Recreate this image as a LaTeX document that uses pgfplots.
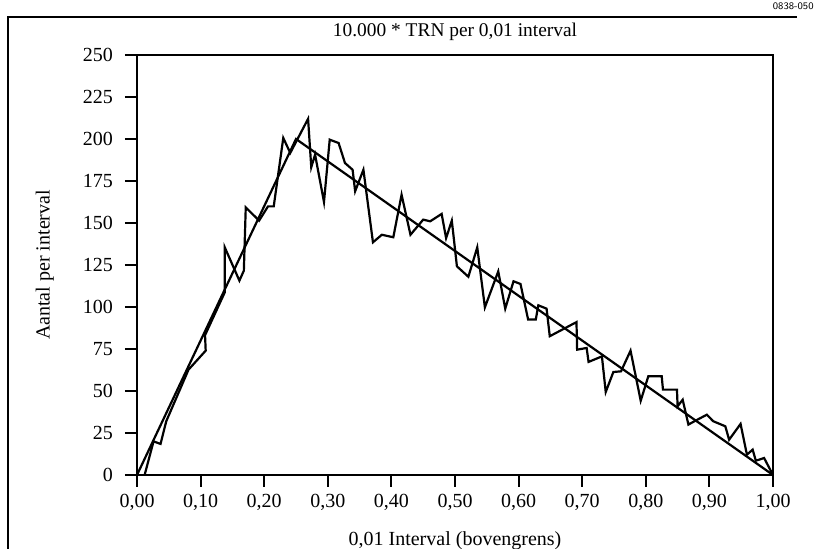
\documentclass[border=0pt]{standalone}
\usepackage{pgfplots}
\pgfplotsset{compat=1.18}
\usepackage{fontspec}
\setmainfont{Liberation Serif}
\begin{document}
\fontsize{10}{12}\selectfont
\begin{tikzpicture}
\useasboundingbox (0,0) rectangle (407pt,274.5pt);
\draw[line width=0.6pt] (4pt,0) -- (4pt,266pt) -- (398.5pt,266pt);
\node[anchor=north east, inner sep=0pt, font=\fontsize{5}{6}\selectfont\sffamily] at (407pt,273.5pt) {0838-050};
\begin{axis}[
  at={(68.5pt,37pt)}, anchor=south west,
  scale only axis, width=318pt, height=210pt,
  xmin=0, xmax=1, ymin=0, ymax=250,
  xtick={0,0.1,0.2,0.3,0.4,0.5,0.6,0.7,0.8,0.9,1},
  ytick={0,25,50,75,100,125,150,175,200,225,250},
  tick align=outside, tick pos=left,
  major tick length=6pt,
  axis line style={line width=1pt},
  every tick/.style={line width=1pt, black},
  /pgf/number format/assume math mode=true,
  ticklabel style={font=\fontsize{10}{12}\selectfont},
  xticklabel style={/pgf/number format/.cd, fixed, fixed zerofill, precision=2, use comma},
  yticklabel style={xshift=-2.5pt, /pgf/number format/.cd, fixed, precision=0},
  title={10.000 * TRN per 0,01 interval},
  title style={at={(axis description cs:0.5,1.026)}, anchor=center, font=\fontsize{9.7}{12}\selectfont},
  xlabel={0,01 Interval (bovengrens)},
  xlabel style={at={(axis description cs:0.5,-0.157)}, anchor=center, font=\fontsize{10}{12}\selectfont},
  ylabel={Aantal per interval},
  ylabel style={at={(axis description cs:-0.145,0.5)}, anchor=center, font=\fontsize{10}{12}\selectfont},
]
\addplot[black, line width=1.1pt, line join=miter] coordinates {
(0.0,0) (0.25,200) (1.0,0)
};
\addplot[black, line width=1.1pt, line join=miter] coordinates {
(0.012,0) (0.026,20) (0.037,18.5) (0.046,32) (0.081,62.7) (0.108,74) (0.107,83.2)
(0.138,108.7) (0.138,135.5) (0.161,115.7) (0.168,121.6) (0.171,159.3) (0.192,151.4)
(0.206,159.9) (0.215,159.9) (0.230,200.6) (0.241,191.7) (0.269,212) (0.274,183.2)
(0.280,190.7) (0.294,162.5) (0.303,199.6) (0.317,197.6) (0.327,185.7) (0.339,181.7)
(0.343,168.9) (0.356,181.7) (0.371,138.5) (0.385,143) (0.403,141.5) (0.416,166.8)
(0.430,143) (0.450,152) (0.461,151) (0.479,155.4) (0.486,141) (0.495,151.4)
(0.503,124.2) (0.521,118) (0.535,135.5) (0.547,99.8) (0.568,121.2) (0.579,99)
(0.592,115.3) (0.603,113.7) (0.615,92.5) (0.627,92.5) (0.631,101) (0.644,99)
(0.649,82.6) (0.691,91) (0.692,74.6) (0.707,75.6) (0.710,67.3) (0.731,70.6)
(0.737,49.4) (0.749,61.3) (0.761,61.7) (0.776,74) (0.792,44.2) (0.804,58.8)
(0.825,58.8) (0.827,50.8) (0.849,50.8) (0.850,40.9) (0.858,44.8) (0.867,30)
(0.877,32.1) (0.896,35.9) (0.906,32) (0.925,29) (0.931,21) (0.949,30.4)
(0.959,12.1) (0.968,15.1) (0.973,8.5) (0.986,10.1) (1.0,0)
};
\end{axis}
\end{tikzpicture}
\end{document}
